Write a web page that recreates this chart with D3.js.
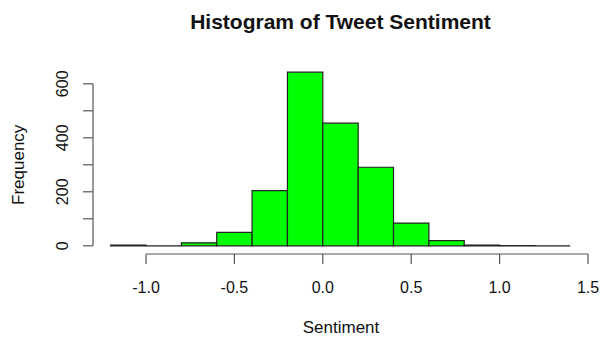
<!DOCTYPE html>
<html>
<head>
<meta charset="utf-8">
<script src="https://cdn.jsdelivr.net/npm/d3@7"></script>
<style>
  html, body { margin: 0; padding: 0; background: #fff; }
  svg text { font-family: "Liberation Sans", Arial, Helvetica, sans-serif; fill: #111; }
</style>
</head>
<body>
<script>
// Histogram bins of tweet sentiment scores (bin width 0.2)
const binStarts = [-1.2, -1.0, -0.8, -0.6, -0.4, -0.2, 0.0, 0.2, 0.4, 0.6, 0.8, 1.0, 1.2];
const binWidth = 0.2;
const counts = [3, 0, 11, 50, 204, 643, 454, 291, 84, 19, 3, 1, 0];
const xTicks = [-1.0, -0.5, 0.0, 0.5, 1.0, 1.5];
const yTicks = [0, 100, 200, 300, 400, 500, 600];
const yLabels = [0, 200, 400, 600];

const W = 601, H = 337;
const svg = d3.select("body").append("svg").attr("width", W).attr("height", H);

const x = d3.scaleLinear().domain([-1.0, 1.5]).range([146, 588]);
const y = d3.scaleLinear().domain([0, 600]).range([245.8, 83.8]);

const bins = binStarts.map((s, i) => ({ x0: s, x1: s + binWidth, n: counts[i] }));

// bars drawn as closed paths so empty bins still show their outline
svg.append("g").selectAll("path").data(bins).join("path")
  .attr("d", d => {
    const p = d3.path();
    p.rect(x(d.x0), y(d.n), x(d.x1) - x(d.x0), y(0) - y(d.n));
    return p.toString();
  })
  .attr("fill", "#00ff00")
  .attr("stroke", "#222")
  .attr("stroke-width", 1.2);

// x axis
const xAxisY = 254;
const gx = svg.append("g").attr("transform", `translate(0,${xAxisY})`);
gx.append("line").attr("x1", x(-1.0)).attr("x2", x(1.5)).attr("y1", 0).attr("y2", 0)
  .attr("stroke", "#555").attr("stroke-width", 1.2);
gx.selectAll("line.tick").data(xTicks).join("line").attr("class", "tick")
  .attr("x1", d => x(d)).attr("x2", d => x(d)).attr("y1", 0).attr("y2", 10)
  .attr("stroke", "#555").attr("stroke-width", 1.2);
gx.selectAll("text").data(xTicks).join("text")
  .attr("x", d => x(d)).attr("y", 38.5)
  .attr("text-anchor", "middle").attr("font-size", 16)
  .text(d => d3.format(".1f")(d).replace("−", "-"));

// y axis
const yAxisX = 93;
const gy = svg.append("g").attr("transform", `translate(${yAxisX},0)`);
gy.append("line").attr("x1", 0).attr("x2", 0).attr("y1", y(0)).attr("y2", y(600))
  .attr("stroke", "#555").attr("stroke-width", 1.2);
gy.selectAll("line.tick").data(yTicks).join("line").attr("class", "tick")
  .attr("x1", -10).attr("x2", 0).attr("y1", d => y(d)).attr("y2", d => y(d))
  .attr("stroke", "#555").attr("stroke-width", 1.2);
gy.selectAll("text").data(yLabels).join("text")
  .attr("transform", d => `translate(-25,${y(d)}) rotate(-90)`)
  .attr("text-anchor", "middle").attr("font-size", 16)
  .text(d => d);

// titles
svg.append("text").attr("x", 340.5).attr("y", 28.5)
  .attr("text-anchor", "middle").attr("font-size", 21).attr("font-weight", "bold")
  .text("Histogram of Tweet Sentiment");
svg.append("text").attr("x", 341).attr("y", 333)
  .attr("text-anchor", "middle").attr("font-size", 17)
  .text("Sentiment");
svg.append("text").attr("transform", `translate(24,${(y(0) + y(600)) / 2}) rotate(-90)`)
  .attr("text-anchor", "middle").attr("font-size", 17)
  .text("Frequency");
</script>
</body>
</html>
